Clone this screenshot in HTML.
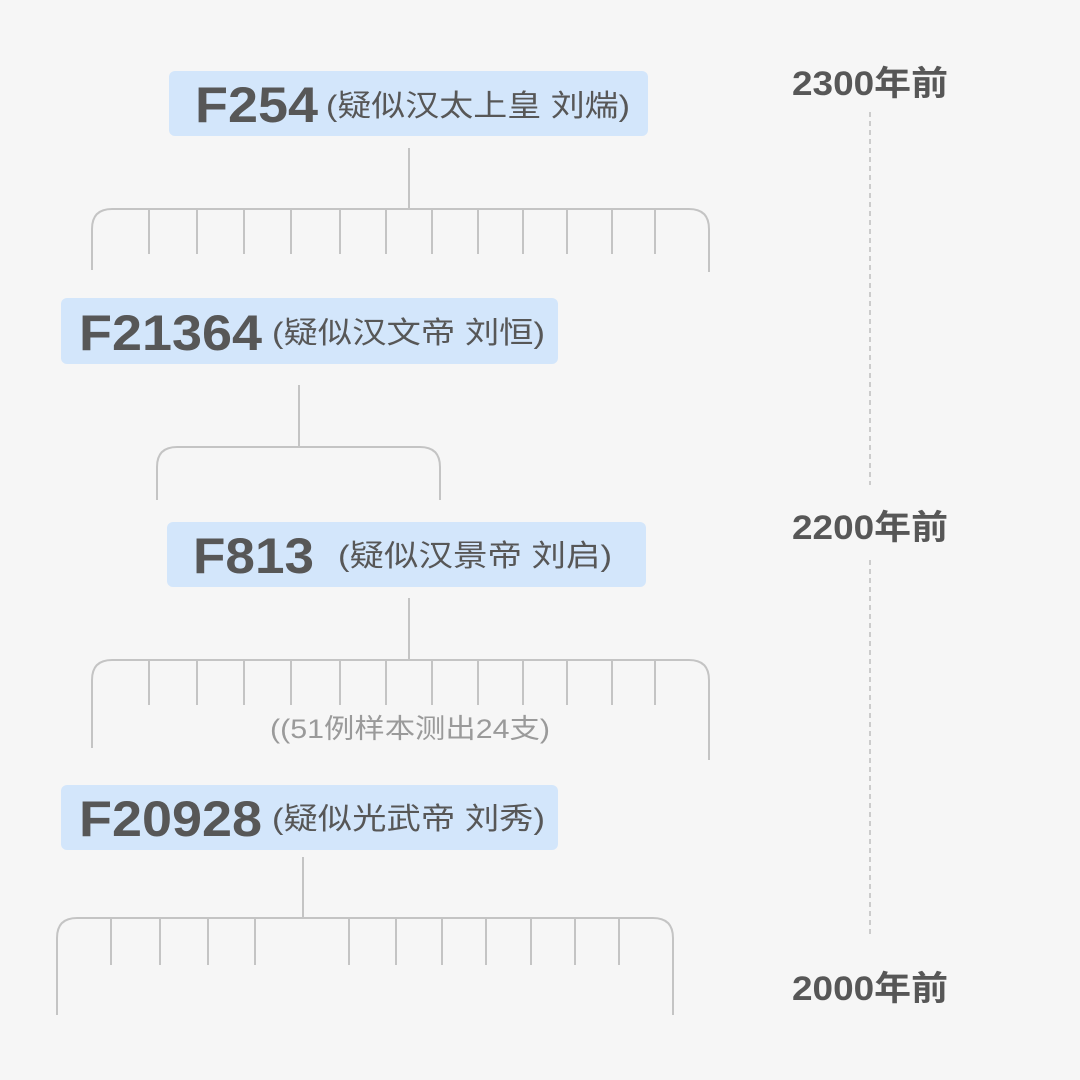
<!DOCTYPE html>
<html><head><meta charset="utf-8"><style>
html,body{margin:0;padding:0;background:#f6f6f6;}
svg{display:block}
.b{font-family:"Liberation Sans","Noto Sans CJK SC",sans-serif;font-weight:bold;fill:#575757}
.c{font-family:"Liberation Sans","Noto Sans CJK SC",sans-serif;fill:#575757}
</style></head><body>
<svg width="1080" height="1080" viewBox="0 0 1080 1080">
<rect width="1080" height="1080" fill="#f6f6f6"/>
<g stroke="#c4c4c4" stroke-width="2" fill="none">
<line x1="409" y1="148" x2="409" y2="209"/>
<path d="M92 270 V229 Q92 209 112 209 H689 Q709 209 709 229 V272"/>
<path d="M149 209V254M197 209V254M244 209V254M291 209V254M340 209V254M386 209V254M432 209V254M478 209V254M523 209V254M567 209V254M612 209V254M655 209V254"/>
<line x1="299" y1="385" x2="299" y2="447"/>
<path d="M157 500 V467 Q157 447 177 447 H420 Q440 447 440 467 V500"/>
<line x1="409" y1="598" x2="409" y2="660"/>
<path d="M92 748 V680 Q92 660 112 660 H689 Q709 660 709 680 V760"/>
<path d="M149 660V705M197 660V705M244 660V705M291 660V705M340 660V705M386 660V705M432 660V705M478 660V705M523 660V705M567 660V705M612 660V705M655 660V705"/>
<line x1="303" y1="857" x2="303" y2="918"/>
<path d="M57 1015 V938 Q57 918 77 918 H653 Q673 918 673 938 V1015"/>
<path d="M111 918V965M160 918V965M208 918V965M255 918V965M349 918V965M396 918V965M442 918V965M486 918V965M531 918V965M575 918V965M619 918V965"/>
</g>
<g stroke="#bdbdbd" stroke-width="1.5" stroke-dasharray="5,4">
<line x1="870" y1="112" x2="870" y2="485"/>
<line x1="870" y1="560" x2="870" y2="935"/>
</g>
<g fill="#d3e6fb">
<rect x="169" y="71" width="479" height="65" rx="6"/>
<rect x="61" y="298" width="497" height="66" rx="6"/>
<rect x="167" y="522" width="479" height="65" rx="6"/>
<rect x="61" y="785" width="497" height="65" rx="6"/>
</g>
<text x="195" y="122" class="b" font-size="50" textLength="123" lengthAdjust="spacingAndGlyphs">F254</text>
<text x="326" y="116" class="c" font-size="30" textLength="304" lengthAdjust="spacingAndGlyphs">(疑似汉太上皇 刘煓)</text>
<text x="79" y="350" class="b" font-size="50" textLength="183" lengthAdjust="spacingAndGlyphs">F21364</text>
<text x="272" y="343" class="c" font-size="30" textLength="273" lengthAdjust="spacingAndGlyphs">(疑似汉文帝 刘恒)</text>
<text x="193" y="573" class="b" font-size="50" textLength="121" lengthAdjust="spacingAndGlyphs">F813</text>
<text x="338" y="566" class="c" font-size="30" textLength="274" lengthAdjust="spacingAndGlyphs">(疑似汉景帝 刘启)</text>
<text x="79" y="836" class="b" font-size="50" textLength="183" lengthAdjust="spacingAndGlyphs">F20928</text>
<text x="272" y="829" class="c" font-size="30" textLength="273" lengthAdjust="spacingAndGlyphs">(疑似光武帝 刘秀)</text>
<text x="270" y="738" font-size="27" fill="#9a9a9a" font-family="Liberation Sans,Noto Sans CJK SC,sans-serif" textLength="280" lengthAdjust="spacingAndGlyphs">((51例样本测出24支)</text>
<text x="792" y="95" class="b" font-size="34" textLength="156" lengthAdjust="spacingAndGlyphs">2300年前</text>
<text x="792" y="539" class="b" font-size="34" textLength="156" lengthAdjust="spacingAndGlyphs">2200年前</text>
<text x="792" y="1000" class="b" font-size="34" textLength="156" lengthAdjust="spacingAndGlyphs">2000年前</text>
</svg>
</body></html>
